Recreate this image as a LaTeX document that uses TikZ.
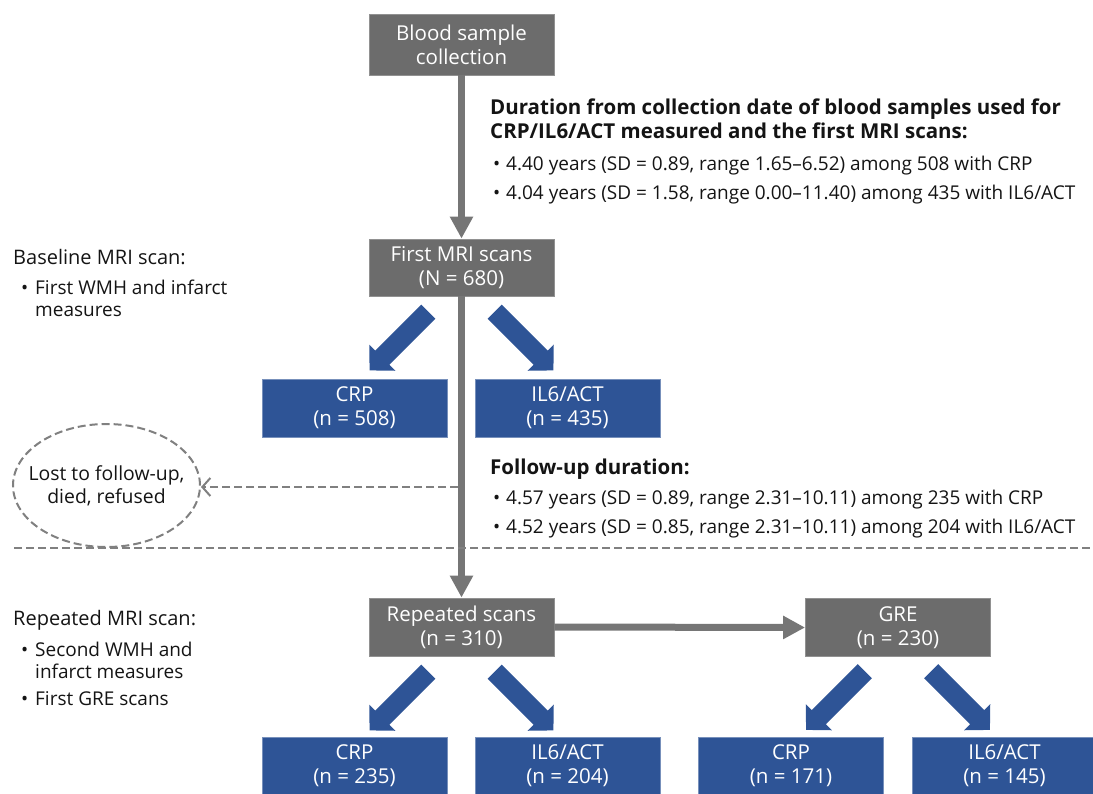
\documentclass[tikz,border=0pt]{standalone}
\usepackage{fontspec}
\setmainfont{Open Sans}
\usetikzlibrary{arrows.meta,shapes.geometric,calc}
\definecolor{boxgray}{RGB}{108,108,108}
\definecolor{linegray}{RGB}{118,118,118}
\definecolor{dashgray}{RGB}{128,128,128}
\definecolor{boxblue}{RGB}{46,84,150}
\definecolor{textblack}{RGB}{20,20,20}
\tikzset{
  graybox/.style={fill=boxgray, draw=boxgray!75!white, line width=0.8pt, text=white,
    minimum width=185pt, minimum height=58pt, inner sep=0pt, align=center,
    font=\fontsize{20.5}{24}\selectfont},
  bluebox/.style={graybox, fill=boxblue, draw=boxblue!65!white},
  flow/.style={draw=linegray, line width=7pt, -{Triangle[length=22pt,width=22pt]}},
  dashline/.style={draw=dashgray, line width=2pt, dash pattern=on 8pt off 4pt},
  txt/.style={anchor=base west, inner sep=0pt, font=\fontsize{19}{23}\selectfont, text=textblack},
  htxt/.style={txt, font=\fontsize{20}{24}\selectfont},
  btxt/.style={txt, font=\fontsize{20.5}{24}\selectfont\bfseries},
  lostnode/.style={ellipse, draw=dashgray, line width=2pt, dash pattern=on 8pt off 4pt,
    minimum width=187pt, minimum height=123pt, inner sep=0pt},
  losttext/.style={inner sep=0pt, align=center, font=\fontsize{19.4}{23}\selectfont, text=textblack},
}
\newcommand{\fatarrowpath}{(0,0) -- (-18,18.5) -- (-18,10) -- (-83,10) -- (-83,-10) -- (-18,-10) -- (-18,-18.5) -- cycle}
\newcommand{\bul}{\makebox[14pt][l]{•}}
\newcommand{\bulR}{\makebox[13pt][l]{•}}
\begin{document}
\begin{tikzpicture}[x=1pt,y=-1pt]
\useasboundingbox (0,0) rectangle (1093,793);
\clip (0,0) rectangle (1093,793);

% boxes
\node[graybox, minimum height=61pt] (blood) at (461.5,44.5) {Blood sample\\collection};
\node[graybox, minimum height=57pt] (first) at (461.5,267.5) {First MRI scans\\(N = 680)};
\node[bluebox] (crpA) at (354.5,408) {CRP\\(n = 508)};
\node[bluebox] (ilA) at (567.5,408) {IL6/ACT\\(n = 435)};
\node[graybox] (rep) at (461.5,627) {Repeated scans\\(n = 310)};
\node[graybox, minimum width=185pt, minimum height=58pt] (gre) at (898,627.5) {GRE\\(n = 230)};
\node[bluebox] (crpB) at (354.5,766) {CRP\\(n = 235)};
\node[bluebox] (ilB) at (567.5,766) {IL6/ACT\\(n = 204)};
\node[bluebox] (crpC) at (791,766) {CRP\\(n = 171)};
\node[bluebox] (ilC) at (1004.5,766) {IL6/ACT\\(n = 145)};

% lost ellipse
\node[lostnode] (lost) at (106.5,485.5) {};
\node[losttext] (losttxt) at (lost.center) {Lost to follow-up,\\died, refused};

% gray flow connectors
\draw[flow] (blood.south) -- (first.north);
\draw[flow] (first.south) -- (rep.north);
\draw[flow] (rep.east) -- (gre.west);

% dashed arrow to lost
\coordinate (lostsrc) at (458,487);
\draw[dashline, -{Straight Barb[length=8pt,width=18pt]}] (lostsrc) -- (lost.east |- lostsrc);

% horizontal dashed separator
\coordinate (sepL) at (14,548);
\coordinate (sepR) at (1093,548);
\draw[dashline] (sepL) -- (sepR);

% fat blue arrows
\begin{scope}[shift={($(first.south west)+(1,74)$)}, rotate=225]
  \fill[boxblue] \fatarrowpath;
\end{scope}
\begin{scope}[shift={($(first.south east)+(-1,74)$)}, rotate=-45]
  \fill[boxblue] \fatarrowpath;
\end{scope}
\begin{scope}[shift={($(rep.south west)+(1,74)$)}, rotate=225]
  \fill[boxblue] \fatarrowpath;
\end{scope}
\begin{scope}[shift={($(rep.south east)+(-1,74)$)}, rotate=-45]
  \fill[boxblue] \fatarrowpath;
\end{scope}
\begin{scope}[shift={($(gre.south west)+(1,73)$)}, rotate=225]
  \fill[boxblue] \fatarrowpath;
\end{scope}
\begin{scope}[shift={($(gre.south east)+(-1,73)$)}, rotate=-45]
  \fill[boxblue] \fatarrowpath;
\end{scope}

% right texts
\node[btxt] (dur1) at (490,114) {Duration from collection date of blood samples used for};
\node[btxt] (dur2) at (490,138) {CRP/IL6/ACT measured and the first MRI scans:};
\node[txt] (dur3) at (493,170) {\bulR 4.40 years (SD = 0.89, range 1.65–6.52) among 508 with CRP};
\node[txt] (dur4) at (493,199) {\bulR 4.04 years (SD = 1.58, range 0.00–11.40) among 435 with IL6/ACT};

\node[btxt] (fu1) at (490,474) {Follow-up duration:};
\node[txt] (fu2) at (493,504) {\bulR 4.57 years (SD = 0.89, range 2.31–10.11) among 235 with CRP};
\node[txt] (fu3) at (493,533) {\bulR 4.52 years (SD = 0.85, range 2.31–10.11) among 204 with IL6/ACT};

% left texts
\node[htxt] (base1) at (13,264) {Baseline MRI scan:};
\node[txt] (base2) at (21,294) {\bul First WMH and infarct};
\node[txt] (base3) at (35,316) {measures};

\node[htxt] (repl1) at (13,625) {Repeated MRI scan:};
\node[txt] (repl2) at (21,656) {\bul Second WMH and};
\node[txt] (repl3) at (35,678) {infarct measures};
\node[txt] (repl4) at (21,705) {\bul First GRE scans};
\end{tikzpicture}
\end{document}
